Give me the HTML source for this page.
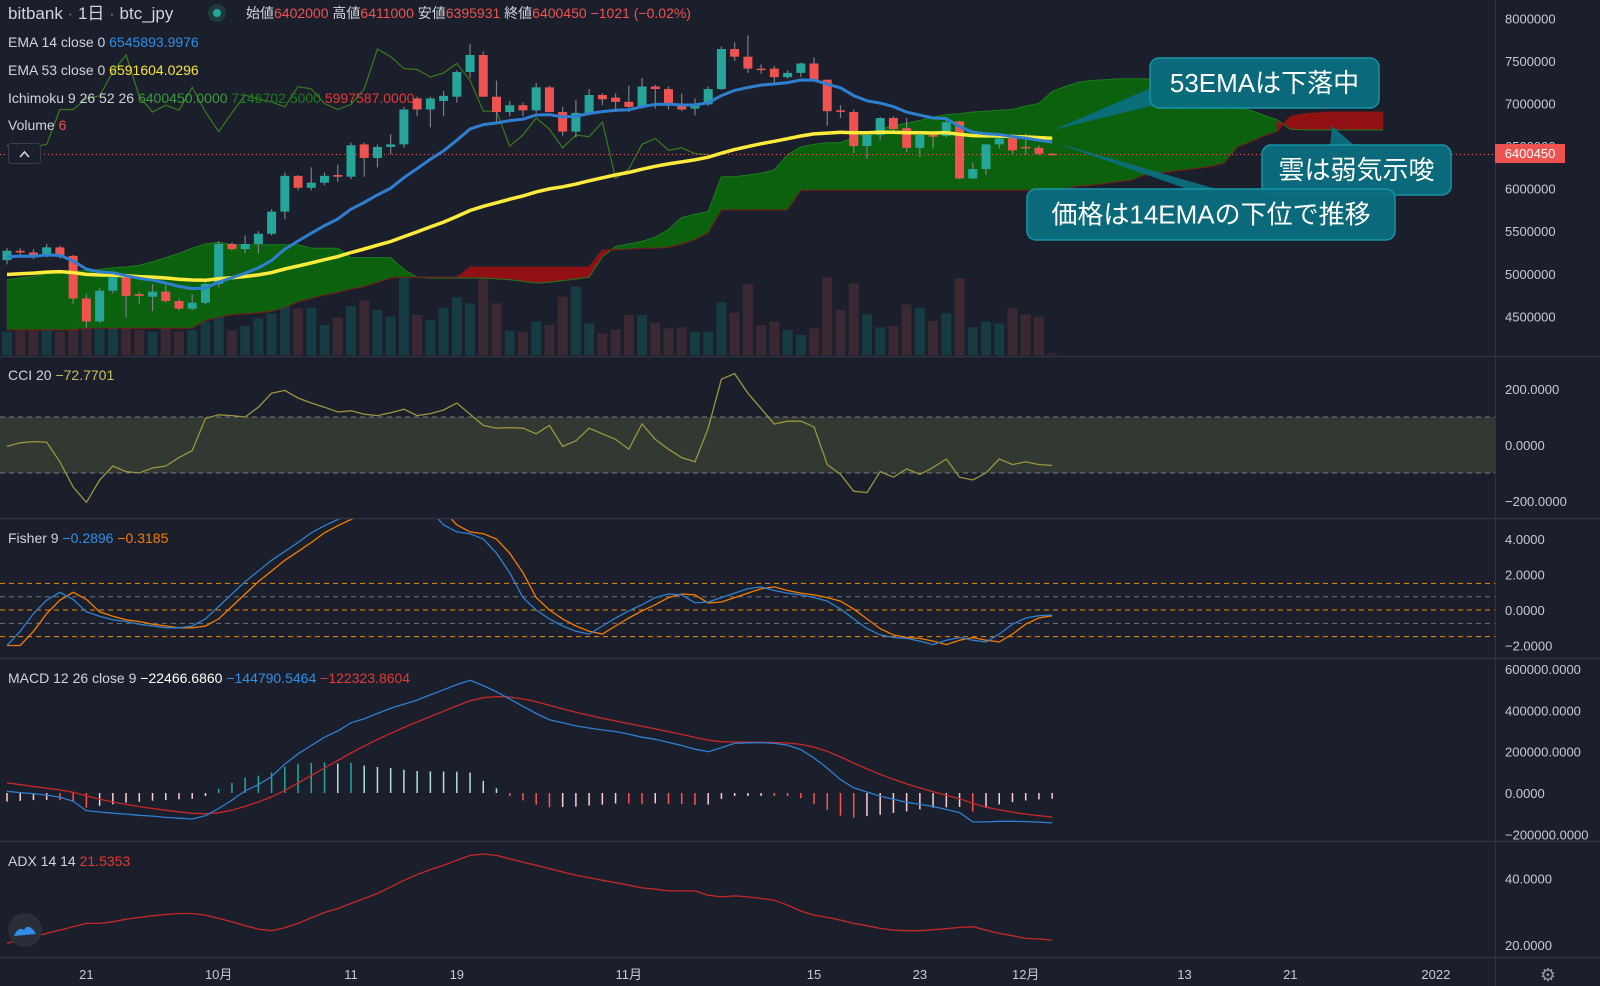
<!DOCTYPE html>
<html><head><meta charset="utf-8"><style>
html,body{margin:0;padding:0;background:#1b1f2b;overflow:hidden}
svg{display:block}
text{font-family:"Liberation Sans","Noto Sans CJK JP",sans-serif}
</style></head><body>
<svg id="c" width="1600" height="986" viewBox="0 0 1600 986" xmlns="http://www.w3.org/2000/svg">
<defs>
<clipPath id="clipMain"><rect x="0" y="0" width="1495" height="356"/></clipPath>
<clipPath id="clipFisher"><rect x="0" y="519" width="1495" height="139"/></clipPath>
</defs>
<rect x="0" y="0" width="1600" height="986" fill="#1b1f2b"/>
</svg>
<script>
// ===== DATA (prices in 10,000 JPY) =====
const opens=[516,527,525,521,531,521,471,444,480,496,476,473,479,468,459,466,488,535,529,535,547,573,615,601,607,616,614,652,636,649,652,706,693,703,708,737,757,708,690,698,692,719,690,667,689,710,707,702,696,720,717,700,694,699,717,764,755,741,741,731,736,747,728,692,690,650,663,683,671,648,663,662,679,612,623,652,659,649,648,641];
const highs=[530,530,529,535,533,522,476,483,499,499,479,488,491,471,476,490,538,537,545,550,576,619,616,625,619,628,654,654,652,664,696,708,708,715,739,770,761,727,703,701,724,721,696,704,717,712,712,721,730,722,720,712,706,720,767,772,780,746,744,739,748,754,728,698,693,663,684,685,683,663,666,684,680,630,652,665,664,665,651,642];
const lows=[511,522,517,519,518,465,436,442,477,449,465,456,466,457,457,464,484,527,524,524,545,564,598,598,604,608,611,614,625,640,648,685,672,685,701,730,708,678,685,685,689,690,662,660,688,698,690,690,694,694,693,691,686,697,716,750,736,735,724,729,731,727,674,683,642,635,657,667,643,637,647,660,611,611,616,647,640,640,639,639];
const closes=[527,525,520,531,520,471,444,480,496,474,474,479,468,459,466,488,535,529,535,547,573,615,601,607,615,614,651,636,649,652,693,693,706,709,737,757,708,690,698,692,719,690,667,689,710,705,702,696,720,717,700,693,699,717,764,755,741,740,731,736,747,727,691,691,650,663,683,670,648,663,661,678,612,623,652,659,645,648,641,640.05];
const volumes=[70,75,75,75,70,105,155,125,95,80,75,70,80,70,75,100,130,73,87,110,125,155,140,142,90,112,147,163,135,115,235,120,105,142,173,155,230,155,73,70,100,90,175,205,95,65,77,120,120,97,80,83,70,70,158,127,213,90,100,75,60,80,233,135,215,122,83,87,152,142,102,125,230,83,100,95,140,122,115,5];
const spanA=[493,495,497,500,502,503,504,505,507,508,510,514,519,524,530,535,537,534,534,534,534,534,534,530,530,530,519,519,519,519,505,496,495,495,495,495,495,494,493,491,489,490,492,494,496,520,532,535,538,543,552,566,570,573,614,614,616,618,622,640,649,652,654,654,660,665,670,674,677,680,684,687,688,690,691,692,693,697,700,714,720,725,727,728,729,729,729,727,722,716,711,705,700,695,692,686,681,670,669,669,669,669,669,669,669];
const spanB=[434,434,434,434,434,434,436,436,436,436,436,436,436,436,436,445,449,452,453,454,456,460,467,471,475,478,482,485,490,495,496,496,496,496,496,508,508,508,508,508,508,508,508,508,508,528,528,529,530,530,531,535,540,548,575,575,575,575,575,575,598,598,598,598,598,598,598,598,598,598,598,598,598,598,598,598,598,598,598,598,600,603,604,606,608,610,616,618,620,622,624,626,630,649,655,662,667,685,688,689,690,690,690,690,690];
const cciValues=[-5,8,12,10,-60,-150,-205,-125,-75,-95,-100,-82,-75,-45,-20,95,108,105,100,135,185,195,168,150,135,118,122,110,105,115,128,105,112,125,150,110,70,60,62,60,40,70,-5,15,60,40,20,-15,75,20,-15,-45,-60,60,235,255,185,130,75,85,85,65,-70,-105,-165,-170,-95,-115,-85,-105,-80,-50,-115,-125,-100,-50,-70,-60,-70,-72.77];
const fisherValues=[-2.0,-1.2,-0.2,0.55,1.0,0.6,-0.1,-0.35,-0.55,-0.65,-0.8,-0.9,-1.0,-1.0,-0.9,-0.5,0.2,0.9,1.6,2.2,2.8,3.3,3.8,4.35,4.75,5.1,5.4,6.0,6.8,7.4,7.6,7.2,5.6,4.8,4.4,4.3,4.0,3.2,2.1,0.7,0.0,-0.5,-0.9,-1.2,-1.35,-0.9,-0.45,-0.05,0.3,0.7,0.9,0.85,0.4,0.45,0.7,0.95,1.2,1.3,1.1,0.95,0.85,0.7,0.5,0.05,-0.5,-1.05,-1.4,-1.55,-1.6,-1.75,-1.95,-1.7,-1.55,-1.7,-1.8,-1.35,-0.8,-0.45,-0.32,-0.29];
const macdValues=[8,2,-3,-10,-20,-40,-85,-92,-98,-102,-108,-112,-118,-122,-126,-110,-75,-35,10,40,80,140,190,230,270,300,340,360,385,410,430,450,475,500,525,546,520,490,455,420,385,355,340,325,315,305,298,285,270,260,245,230,212,200,220,240,243,244,240,232,210,170,120,65,25,5,-15,-30,-45,-55,-65,-80,-95,-140,-140,-137,-137,-138,-141,-144.8];
const adxValues=[20.5,21.5,22.5,23.5,24.5,25.5,26.5,26.5,27,27.8,28.3,28.8,29.2,29.5,29.5,29,28,27,25.8,24.8,24.3,25.2,26.5,28.2,29.8,31,32.5,34,35.5,37.5,39.5,41.2,42.7,44,45.5,47,47.4,47,46,44.9,44,43,42,41,40.3,39.5,38.8,38,37.2,36.8,36.3,36.3,36.3,35,34.5,34.8,34.5,34,33.5,32,30.2,29,28.3,27.5,26.5,25.8,25,24.5,24.3,24.3,24.6,24.9,25.3,25.5,24.5,23.5,22.8,22,21.8,21.5];
const priceTicks=[8000000,7500000,7000000,6500000,6000000,5500000,5000000,4500000];
const cciTicks=[200,0,-200];
const fisherTicks=[4,2,0,-2];
const macdTicks=[600000,400000,200000,0,-200000];
const adxTicks=[40,20];
const timeLabels=["21","10月","11","19","11月","15","23","12月","13","21","2022"];
const timeIdx=[6,16,26,34,47,61,69,77,89,97,108];
const lastPrice=640.045;

// ===== SCALES =====
const svg=document.getElementById('c');
const NS='http://www.w3.org/2000/svg';
const X=i=>7+13.23*i;
const PY=p=>18.4+(800-p)*0.8512;
const CY=v=>445-v*0.28;
const FY=v=>610-v*17.75;
const MY=v=>793-v*0.2065;       // v in thousands
const AY=v=>945-(v-20)*3.32;
const VY=v=>355-v/3;
function mk(tag,attrs,parent){const e=document.createElementNS(NS,tag);for(const k in attrs)e.setAttribute(k,attrs[k]);(parent||svg).appendChild(e);return e;}
function txt(x,y,s,fill,size,anchor,parent){const t=mk('text',{x:x,y:y,fill:fill,'font-size':size,'text-anchor':anchor||'start'},parent);t.textContent=s;return t;}
function ema(arr,n,seed){const k=2/(n+1);let e=seed;return arr.map(v=>(e=v*k+e*(1-k)));}
function poly(pts){return pts.map(p=>p[0].toFixed(1)+','+p[1].toFixed(1)).join(' ');}

// ===== MAIN PANE =====
const gMain=mk('g',{'clip-path':'url(#clipMain)'});


// volume
volumes.forEach((v,i)=>{const up=closes[i]>=opens[i];
 const r=mk('rect',{x:X(i)-5,y:VY(v),width:10,height:v/3,fill:up?'#163b42':'#3a2932'},gMain);
 
 });
// cloud segments
for(let i=0;i<spanA.length-1;i++){
 const a0=spanA[i],a1=spanA[i+1],b0=spanB[i],b1=spanB[i+1];
 const green=(a0+a1)>=(b0+b1);
 const p=mk('polygon',{points:poly([[X(i),PY(a0)],[X(i+1),PY(a1)],[X(i+1),PY(b1)],[X(i),PY(b0)]]),fill:green?'#0a660c':'#9a0f12','fill-opacity':0.93,stroke:green?'#0a660c':'#9a0f12','stroke-width':0.6},gMain);
 
 }
const la=mk('polyline',{points:poly(spanA.map((v,i)=>[X(i),PY(v)])),fill:'none',stroke:'#1f7a1f','stroke-width':1},gMain);


const lb=mk('polyline',{points:poly(spanB.map((v,i)=>[X(i),PY(v)])),fill:'none',stroke:'#7a1a1a','stroke-width':1},gMain);


// chikou (lagging span)
const ch=[];for(let i=0;i+26<closes.length;i++)ch.push([X(i),PY(closes[i+26])]);
const chl=mk('polyline',{points:poly(ch),fill:'none',stroke:'#3b7a1e','stroke-width':1.2},gMain);


// last price dotted line
const lp=mk('line',{x1:0,x2:1495,y1:PY(lastPrice),y2:PY(lastPrice),stroke:'#ef5350','stroke-width':1,'stroke-dasharray':'1,3'},gMain);


// candles
closes.forEach((c,i)=>{const o=opens[i],up=c>=o,col=up?'#26a69a':'#ef5350';
 const w=mk('line',{x1:X(i),x2:X(i),y1:PY(highs[i]),y2:PY(lows[i]),stroke:'#7b7e88','stroke-width':1.2},gMain);
 
 
 const top=PY(Math.max(o,c)),h=Math.max(1.5,Math.abs(PY(o)-PY(c)));
 const b=mk('rect',{x:X(i)-4.5,y:top,width:9,height:h,fill:col},gMain);
 
 });
// EMAs
const e53=ema(closes,53,498),e14=ema(closes,14,519);
const ye=mk('polyline',{points:poly(e53.map((v,i)=>[X(i),PY(v)])),fill:'none',stroke:'#ffeb3b','stroke-width':3.5},gMain);


const be=mk('polyline',{points:poly(e14.map((v,i)=>[X(i),PY(v)])),fill:'none',stroke:'#2f7fd0','stroke-width':3},gMain);



// ===== CCI =====
const cciBand=mk('rect',{x:0,y:CY(100),width:1495,height:CY(-100)-CY(100),fill:'#3a4436','fill-opacity':0.7});


[100,-100].forEach(v=>{const l=mk('line',{x1:0,x2:1495,y1:CY(v),y2:CY(v),stroke:'#787b86','stroke-dasharray':'5,4','stroke-width':1});
 
 });
const cl=mk('polyline',{points:poly(cciValues.map((v,i)=>[X(i),CY(v)])),fill:'none',stroke:'#9a9640','stroke-width':1.3});



// ===== FISHER =====
[[1.5,'#ff9800'],[0.75,'#787b86'],[0,'#ff9800'],[-0.75,'#787b86'],[-1.5,'#ff9800']].forEach(d=>{
 const l=mk('line',{x1:0,x2:1495,y1:FY(d[0]),y2:FY(d[0]),stroke:d[1],'stroke-dasharray':'5,4','stroke-width':1,'stroke-opacity':0.9});
 
 });
const gF=mk('g',{'clip-path':'url(#clipFisher)'});


const trig=fisherValues.map((v,i)=>i?fisherValues[i-1]:v);
const ft=mk('polyline',{points:poly(trig.map((v,i)=>[X(i),FY(v)])),fill:'none',stroke:'#f57c00','stroke-width':1.3},gF);


const fl=mk('polyline',{points:poly(fisherValues.map((v,i)=>[X(i),FY(v)])),fill:'none',stroke:'#2f7fd0','stroke-width':1.3},gF);



// ===== MACD =====
const signal=ema(macdValues,9,60);
macdValues.forEach((m,i)=>{const h=m-signal[i],prev=i?macdValues[i-1]-signal[i-1]:h;
 let col=h>=0?(h>=prev?'#26a69a':'#b2dfdb'):(h<prev?'#ff5252':'#ffcdd2');
 const y0=MY(0),y1=MY(h);
 const l=mk('line',{x1:X(i),x2:X(i),y1:y0,y2:Math.abs(y1-y0)<3?y0+(h>=0?-3:3):y1,stroke:col,'stroke-width':1.5});
 
 });
const sl=mk('polyline',{points:poly(signal.map((v,i)=>[X(i),MY(v)])),fill:'none',stroke:'#c62828','stroke-width':1.3});


const ml=mk('polyline',{points:poly(macdValues.map((v,i)=>[X(i),MY(v)])),fill:'none',stroke:'#2f7fd0','stroke-width':1.3});



// ===== ADX =====
const al=mk('polyline',{points:poly(adxValues.map((v,i)=>[X(i),AY(v)])),fill:'none',stroke:'#c62828','stroke-width':1.3});



// ===== SEPARATORS / AXES =====
[356.5,518.5,658.5,841.5,957.5].forEach(y=>{const l=mk('line',{x1:0,x2:1600,y1:y,y2:y,stroke:'#2f3340','stroke-width':1.5});
 
 });
const va=mk('line',{x1:1495.5,x2:1495.5,y1:0,y2:986,stroke:'#2f3340','stroke-width':1});


const axStyle='#c8cad2';
priceTicks.forEach(p=>{const t=txt(1505,PY(p/10000)+5,String(p),axStyle,13);
 
 });
cciTicks.forEach(v=>{const t=txt(1505,CY(v)+5,(v<0?'−':'')+Math.abs(v).toFixed(4),axStyle,13);
 
 });
fisherTicks.forEach(v=>{const t=txt(1505,FY(v)+5,(v<0?'−':'')+Math.abs(v).toFixed(4),axStyle,13);
 
 });
macdTicks.forEach(v=>{const t=txt(1505,MY(v/1000)+5,(v<0?'−':'')+Math.abs(v).toFixed(4),axStyle,13);
 
 });
adxTicks.forEach(v=>{const t=txt(1505,AY(v)+5,v.toFixed(4),axStyle,13);
 
 });
timeLabels.forEach((s,k)=>{const t=txt(X(timeIdx[k]),979,s,axStyle,13,'middle');
 
 });
// last price tag
const tag=mk('rect',{x:1495,y:144,width:70,height:19,fill:'#ef5350'});


const tt=txt(1530,158,'6400450','#ffffff',13,'middle');


// settings gear
const gear=txt(1548,981,'⚙','#9598a1',18,'middle');



// ===== CALLOUTS =====
function callout(name,bx,by,bw,bh,tail,label){
 const g=mk('g',{});
 
 
 mk('polygon',{points:poly(tail),fill:'#0a7080','fill-opacity':0.92},g);
 mk('rect',{x:bx,y:by,width:bw,height:bh,rx:9,fill:'#0a6e7e','fill-opacity':0.95,stroke:'#1694a6','stroke-width':1.5},g);
 txt(bx+bw/2,by+bh/2+9,label,'#ffffff',26,'middle',g);}
callout('callout-cloud-bearish',1262,145,189,50,[[1355,146],[1330,146],[1332,126]],'雲は弱気示唆');
callout('callout-price-below-ema14',1027,189,368,51,[[1220,190],[1190,190],[1053,142]],'価格は14EMAの下位で推移');
callout('callout-ema53-falling',1150,58,229,50,[[1151,88],[1151,106],[1053,130]],'53EMAは下落中');

// ===== LEGENDS =====
function legend(name,y,parts){const t=mk('text',{x:8,y:y,'font-size':14});
 
 
 parts.forEach(p=>{const s=mk('tspan',{fill:p[1]},t);if(p[2])s.setAttribute('font-size',p[2]);s.textContent=p[0];});}
legend('symbol-header',19,[['bitbank','#d1d4dc',17],[' · ','#787b86',17],['1日','#d1d4dc',17],[' · ','#787b86',17],['btc_jpy','#d1d4dc',17]]);
const dot=mk('circle',{cx:217,cy:13,r:9,fill:'#1e3a3a'});


mk('circle',{cx:217,cy:13,r:4,fill:'#26a69a'});
const ohlc=mk('text',{x:246,y:18,'font-size':14});


[['始値','#d1d4dc'],['6402000 ','#ef5350'],['高値','#d1d4dc'],['6411000 ','#ef5350'],['安値','#d1d4dc'],['6395931 ','#ef5350'],['終値','#d1d4dc'],['6400450 −1021 (−0.02%)','#ef5350']].forEach(p=>{const s=mk('tspan',{fill:p[1]},ohlc);s.textContent=p[0];});
legend('ema14-legend',47,[['EMA 14 close 0  ','#d1d4dc'],['6545893.9976','#2f8fe8']]);
legend('ema53-legend',75,[['EMA 53 close 0  ','#d1d4dc'],['6591604.0296','#f5e33b']]);
legend('ichimoku-legend',103,[['Ichimoku 9 26 52 26  ','#d1d4dc'],['6400450.0000 ','#3d9a3d'],['7146702.5000 ','#1e7a1e'],['5997587.0000','#e53935']]);
legend('volume-legend',130,[['Volume  ','#d1d4dc'],['6','#ef5350']]);
const cb=mk('rect',{x:8.5,y:143.5,width:32,height:20,rx:3,fill:'#1b1f2b',stroke:'#3a3e4a'});


mk('polyline',{points:'20,157 24.5,152 29,157',fill:'none',stroke:'#d1d4dc','stroke-width':1.6});
legend('cci-legend',380,[['CCI 20  ','#d1d4dc'],['−72.7701','#c8c05a']]);
legend('fisher-legend',543,[['Fisher 9  ','#d1d4dc'],['−0.2896  ','#2f8fe8'],['−0.3185','#f57c00']]);
legend('macd-legend',683,[['MACD 12 26 close 9  ','#d1d4dc'],['−22466.6860  ','#ffffff'],['−144790.5464  ','#2f8fe8'],['−122323.8604','#e53935']]);
legend('adx-legend',866,[['ADX 14 14  ','#d1d4dc'],['21.5353','#e53935']]);
// logo
const logo=mk('circle',{cx:25,cy:930,r:17,fill:'#2a2e39'});


mk('path',{d:'M14 936 Q18 926 24 930 Q29 922 36 934 Z',fill:'#2f8fe8'});
</script>
</body></html>
